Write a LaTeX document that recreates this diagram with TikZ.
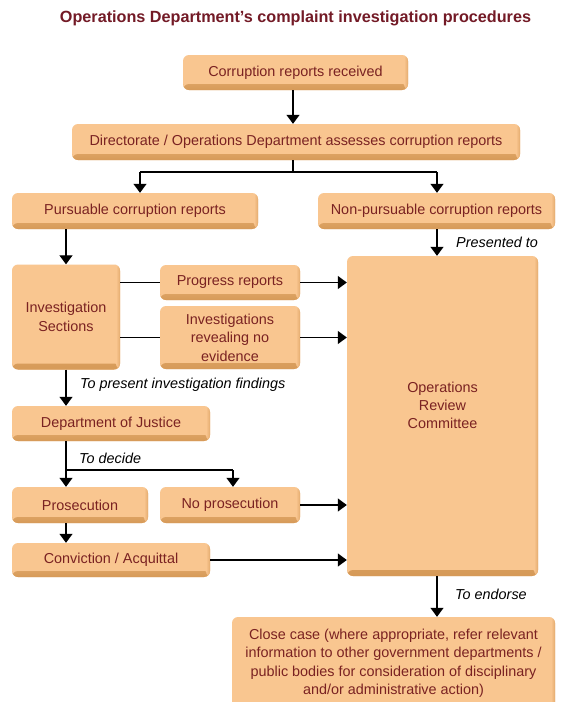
\documentclass[tikz,border=0pt]{standalone}
\usepackage{fontspec}
\setmainfont{Liberation Sans}
\usetikzlibrary{arrows.meta,calc}
\definecolor{boxfill}{HTML}{F9C690}
\definecolor{boxdark}{HTML}{D69A58}
\definecolor{boxtext}{HTML}{7A2222}
\definecolor{titlecol}{HTML}{731A26}
\tikzset{
  box/.style={rectangle, rounded corners=6pt, fill=boxfill, text=boxtext,
    font=\fontsize{14.4}{18.5}\selectfont, align=center, inner sep=0pt,
    path picture={
      \shade[top color=boxfill, bottom color=boxdark]
        ([yshift=6pt]path picture bounding box.south west) rectangle (path picture bounding box.south east);
      \shade[left color=boxfill, right color=boxdark!60!boxfill]
        ([xshift=-4pt]path picture bounding box.south east) rectangle (path picture bounding box.north east);
    }},
  conn/.style={line width=1.3pt, black},
  arr/.style={conn, -{Triangle[width=13pt,length=9pt]}},
  lbl/.style={anchor=west, font=\fontsize{14.4}{18}\selectfont\itshape, inner sep=0pt}
}
\begin{document}
\begin{tikzpicture}[x=1pt,y=-1pt]
\useasboundingbox (0,0) rectangle (565,702);
\fill[white] (0,0) rectangle (565,702);
\node[font=\fontsize{16.2}{19}\selectfont\bfseries, text=titlecol, inner sep=0pt] (title) at (295.5,18) {Operations Department’s complaint investigation procedures};

\node[box, minimum width=225pt, minimum height=35pt] (recv) at (295.5,72.5) {Corruption reports received};
\node[box, minimum width=448pt, minimum height=36pt] (assess) at (296,142) {Directorate / Operations Department assesses corruption reports};
\node[box, minimum width=246pt, minimum height=36pt] (pursue) at (135,211) {Pursuable corruption reports};
\node[box, minimum width=237pt, minimum height=36pt] (nonp) at (436.5,211) {Non-pursuable corruption reports};
\node[box, minimum width=191pt, minimum height=320pt] (orc) at (442.5,416) {};
\node[text=boxtext, font=\fontsize{14.4}{18}\selectfont, align=center, inner sep=0pt] (orctext) at (442.5,405) {Operations\\Review\\Committee};
\node[box, minimum width=108pt, minimum height=105pt] (IS) at (66,317) {Investigation\\Sections};
\node[box, minimum width=140pt, minimum height=35pt] (prog) at (230,282.5) {Progress reports};
\node[box, minimum width=140pt, minimum height=63pt] (invrev) at (230,337.5) {Investigations\\revealing no\\evidence};
\node[box, minimum width=198pt, minimum height=35pt] (doj) at (111,423.5) {Department of Justice};
\node[box, minimum width=136pt, minimum height=36pt] (pros) at (80,505) {Prosecution};
\node[box, minimum width=140pt, minimum height=36pt] (nopros) at (230,505) {No prosecution};
\node[box, minimum width=198pt, minimum height=34pt] (conv) at (111,560) {Conviction / Acquittal};
\node[box, minimum width=323pt, minimum height=93pt] (close) at (393.5,663.5) {Close case (where appropriate, refer relevant\\information to other government departments /\\public bodies for consideration of disciplinary\\and/or administrative action)};

% connectors
\draw[arr] (recv.south -| 293,0) -- (assess.north -| 293,0);
\coordinate (sl) at (140,172);
\coordinate (sr) at (437,172);
\draw[conn] (assess.south -| 293,0) -- (293,172);
\draw[conn] (sl) -- (sr);
\draw[arr] (sl) -- (sl |- pursue.north);
\draw[arr] (sr) -- (sr |- nonp.north);
\draw[arr] (nonp.south -| sr) -- (orc.north -| sr);
\node[lbl] (lpres) at (456,242) {Presented to};

\draw[arr] (pursue.south -| IS.north) -- (IS.north);
\draw[conn] (prog.west -| IS.east) -- (prog.west);
\draw[arr] (prog.east) -- (prog.east -| orc.west);
\draw[conn] (invrev.west -| IS.east) -- (invrev.west);
\draw[arr] (invrev.east) -- (invrev.east -| orc.west);

\draw[arr] (IS.south) -- (IS.south |- doj.north);
\node[lbl] (lfind) at (80,385) {To present investigation findings};

\coordinate (dl) at (66,470);
\coordinate (dr) at (233,470);
\draw[conn] (doj.south -| dl) -- (dl) -- (dr);
\draw[arr] (dl) -- (dl |- pros.north);
\draw[arr] (dr) -- (dr |- nopros.north);
\node[lbl] (ldec) at (79,458) {To decide};

\draw[arr] (nopros.east) -- (nopros.east -| orc.west);
\draw[arr] (pros.south -| dl) -- (conv.north -| dl);
\draw[arr] (conv.east) -- (conv.east -| orc.west);

\draw[arr] (orc.south -| sr) -- (close.north -| sr);
\node[lbl] (lend) at (455,594) {To endorse};
\end{tikzpicture}
\end{document}
